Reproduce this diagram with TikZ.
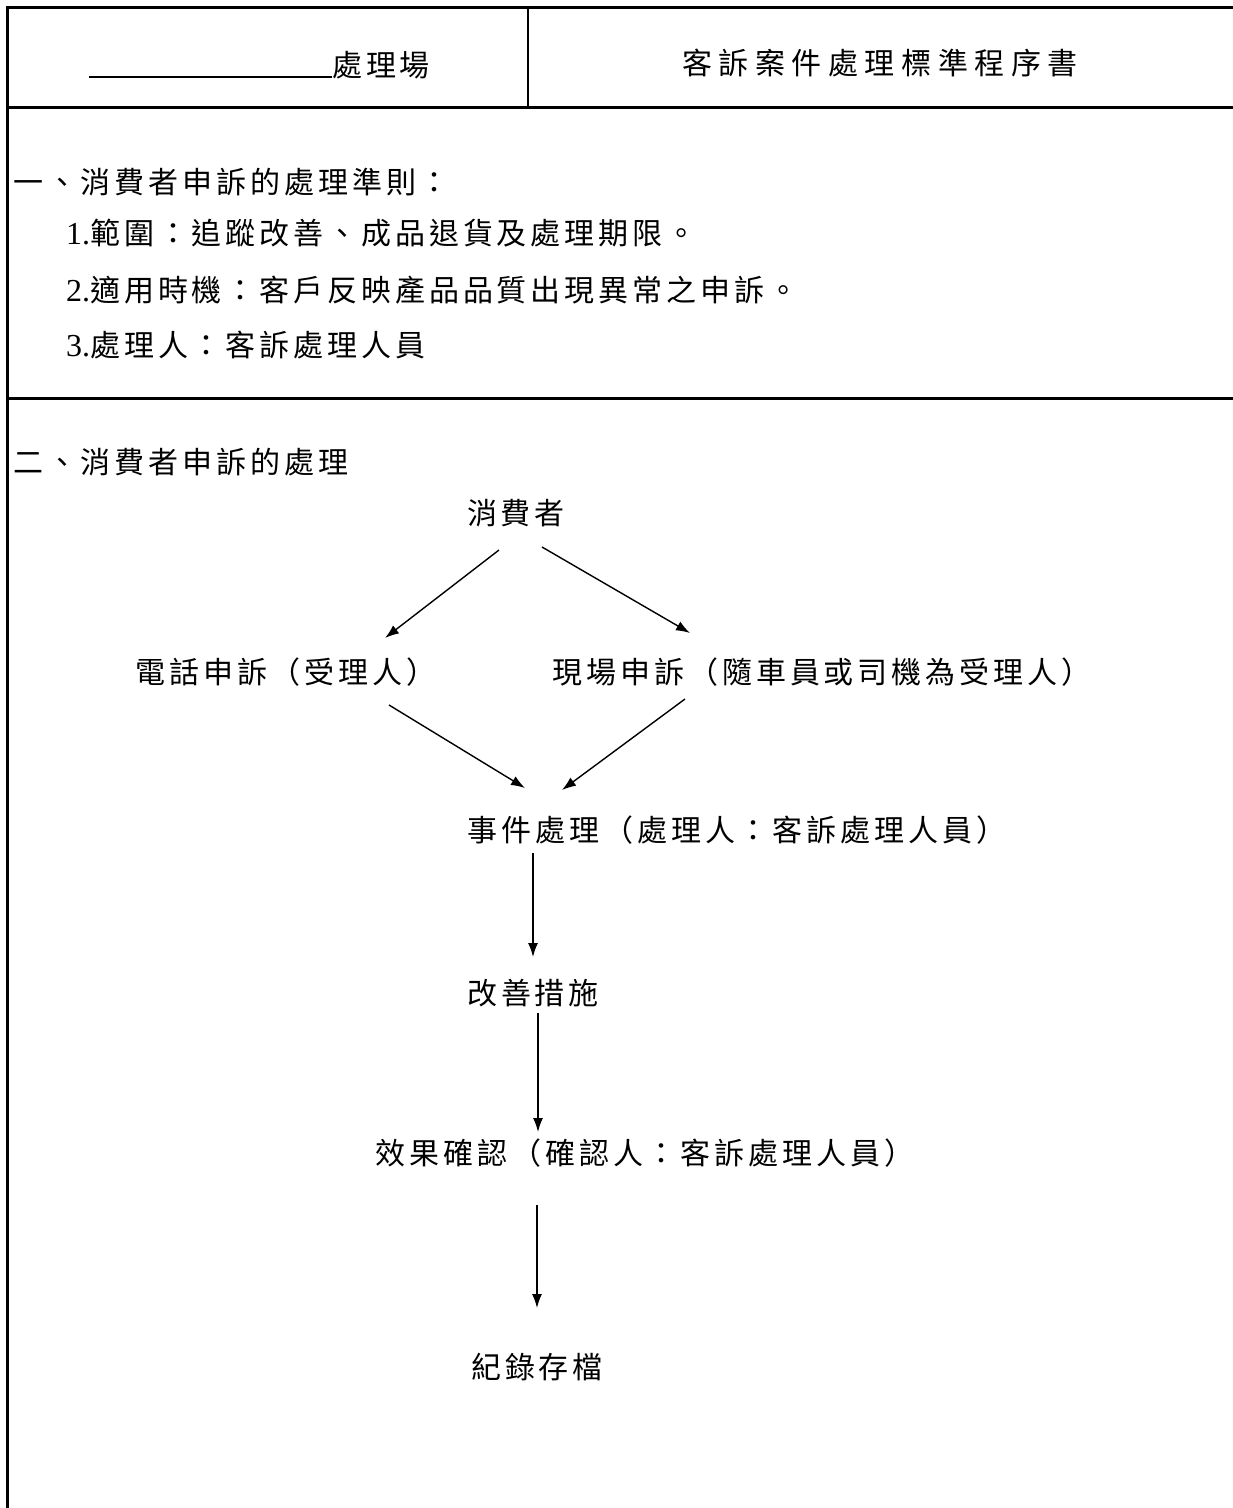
\documentclass[tikz,border=0pt]{standalone}
\usepackage{fontspec}
\setmainfont{Liberation Serif}
\newfontfamily\cjk[LetterSpace=13]{Noto Sans CJK TC}
\newfontfamily\cjkwide[LetterSpace=22]{Noto Sans CJK TC}
\usepackage{tikz}
\usetikzlibrary{positioning}
\usetikzlibrary{calc}
\usetikzlibrary{arrows.meta}

\begin{document}
\begin{tikzpicture}
    [x=1pt, y=-1pt,
    border/.style={line width=3pt},
    divider/.style={line width=1.8pt},
    item/.style={font=\fontsize{30pt}{34pt}\selectfont\cjk, inner sep=0pt, anchor=west},
    doctitle/.style={font=\fontsize{30pt}{34pt}\selectfont\cjkwide, inner sep=0pt},
    stage/.style={font=\fontsize{30pt}{34pt}\selectfont\cjk, inner sep=0pt},
    flow/.style={-{Latex[length=14pt,width=10pt]}, line width=1.4pt}]
     \useasboundingbox (0,0) rectangle (1233,1508);
     %table lines
     \draw[border] (1233,7) -- (7,7) -- (7,1508);
     \draw[border] (7,107) -- (1233,107);
     \draw[border] (7,398) -- (1233,398);
     \draw[divider] (528,7) -- (528,107);
     \draw[line width=2.8pt] (89,77) -- (332,77);
     \node[item] (plant) at (332, 65)      {處理場};
     \node[doctitle] (doc) at (880, 63)    {客訴案件處理標準程序書};
     \node[item] (rules) at (13, 182)      {一、消費者申訴的處理準則：};
     \node[item] (r1) at (66, 233)         {{\rmfamily\fontsize{32pt}{34pt}\selectfont 1.}範圍：追蹤改善、成品退貨及處理期限。};
     \node[item] (r2) at (66, 290)         {{\rmfamily\fontsize{32pt}{34pt}\selectfont 2.}適用時機：客戶反映產品品質出現異常之申訴。};
     \node[item] (r3) at (66, 345)         {{\rmfamily\fontsize{32pt}{34pt}\selectfont 3.}處理人：客訴處理人員};
     \node[item] (proc) at (13, 462)       {二、消費者申訴的處理};
     %flow
     \node[stage] (cons) at (516, 513)     {消費者};
     \node[stage] (phone) at (286, 672)    {電話申訴（受理人）};
     \node[stage] (site) at (822, 672)     {現場申訴（隨車員或司機為受理人）};
     \node[stage] (event) at (737, 830)    {事件處理（處理人：客訴處理人員）};
     \node[stage] (fix) at (533, 993)      {改善措施};
     \node[stage] (check) at (645, 1153)   {效果確認（確認人：客訴處理人員）};
     \node[stage] (file) at (537, 1367)    {紀錄存檔};
     \draw[flow] ($(cons)+(-17,37)$) -- ($(phone)+(99,-34)$);
     \draw[flow] ($(cons)+(26,34)$) -- ($(site)+(-132,-39)$);
     \draw[flow] ($(phone)+(103,33)$) -- ($(event)+(-212,-42)$);
     \draw[flow] ($(site)+(-137,27)$) -- ($(event)+(-175,-40)$);
     \draw[flow] ($(event)+(-204,23)$) -- ($(fix)+(0,-36)$);
     \draw[flow] ($(fix)+(5,20)$) -- ($(check)+(-107,-21)$);
     \draw[flow] ($(check)+(-108,52)$) -- ($(file)+(0,-59)$);
\end{tikzpicture}
\end{document}
